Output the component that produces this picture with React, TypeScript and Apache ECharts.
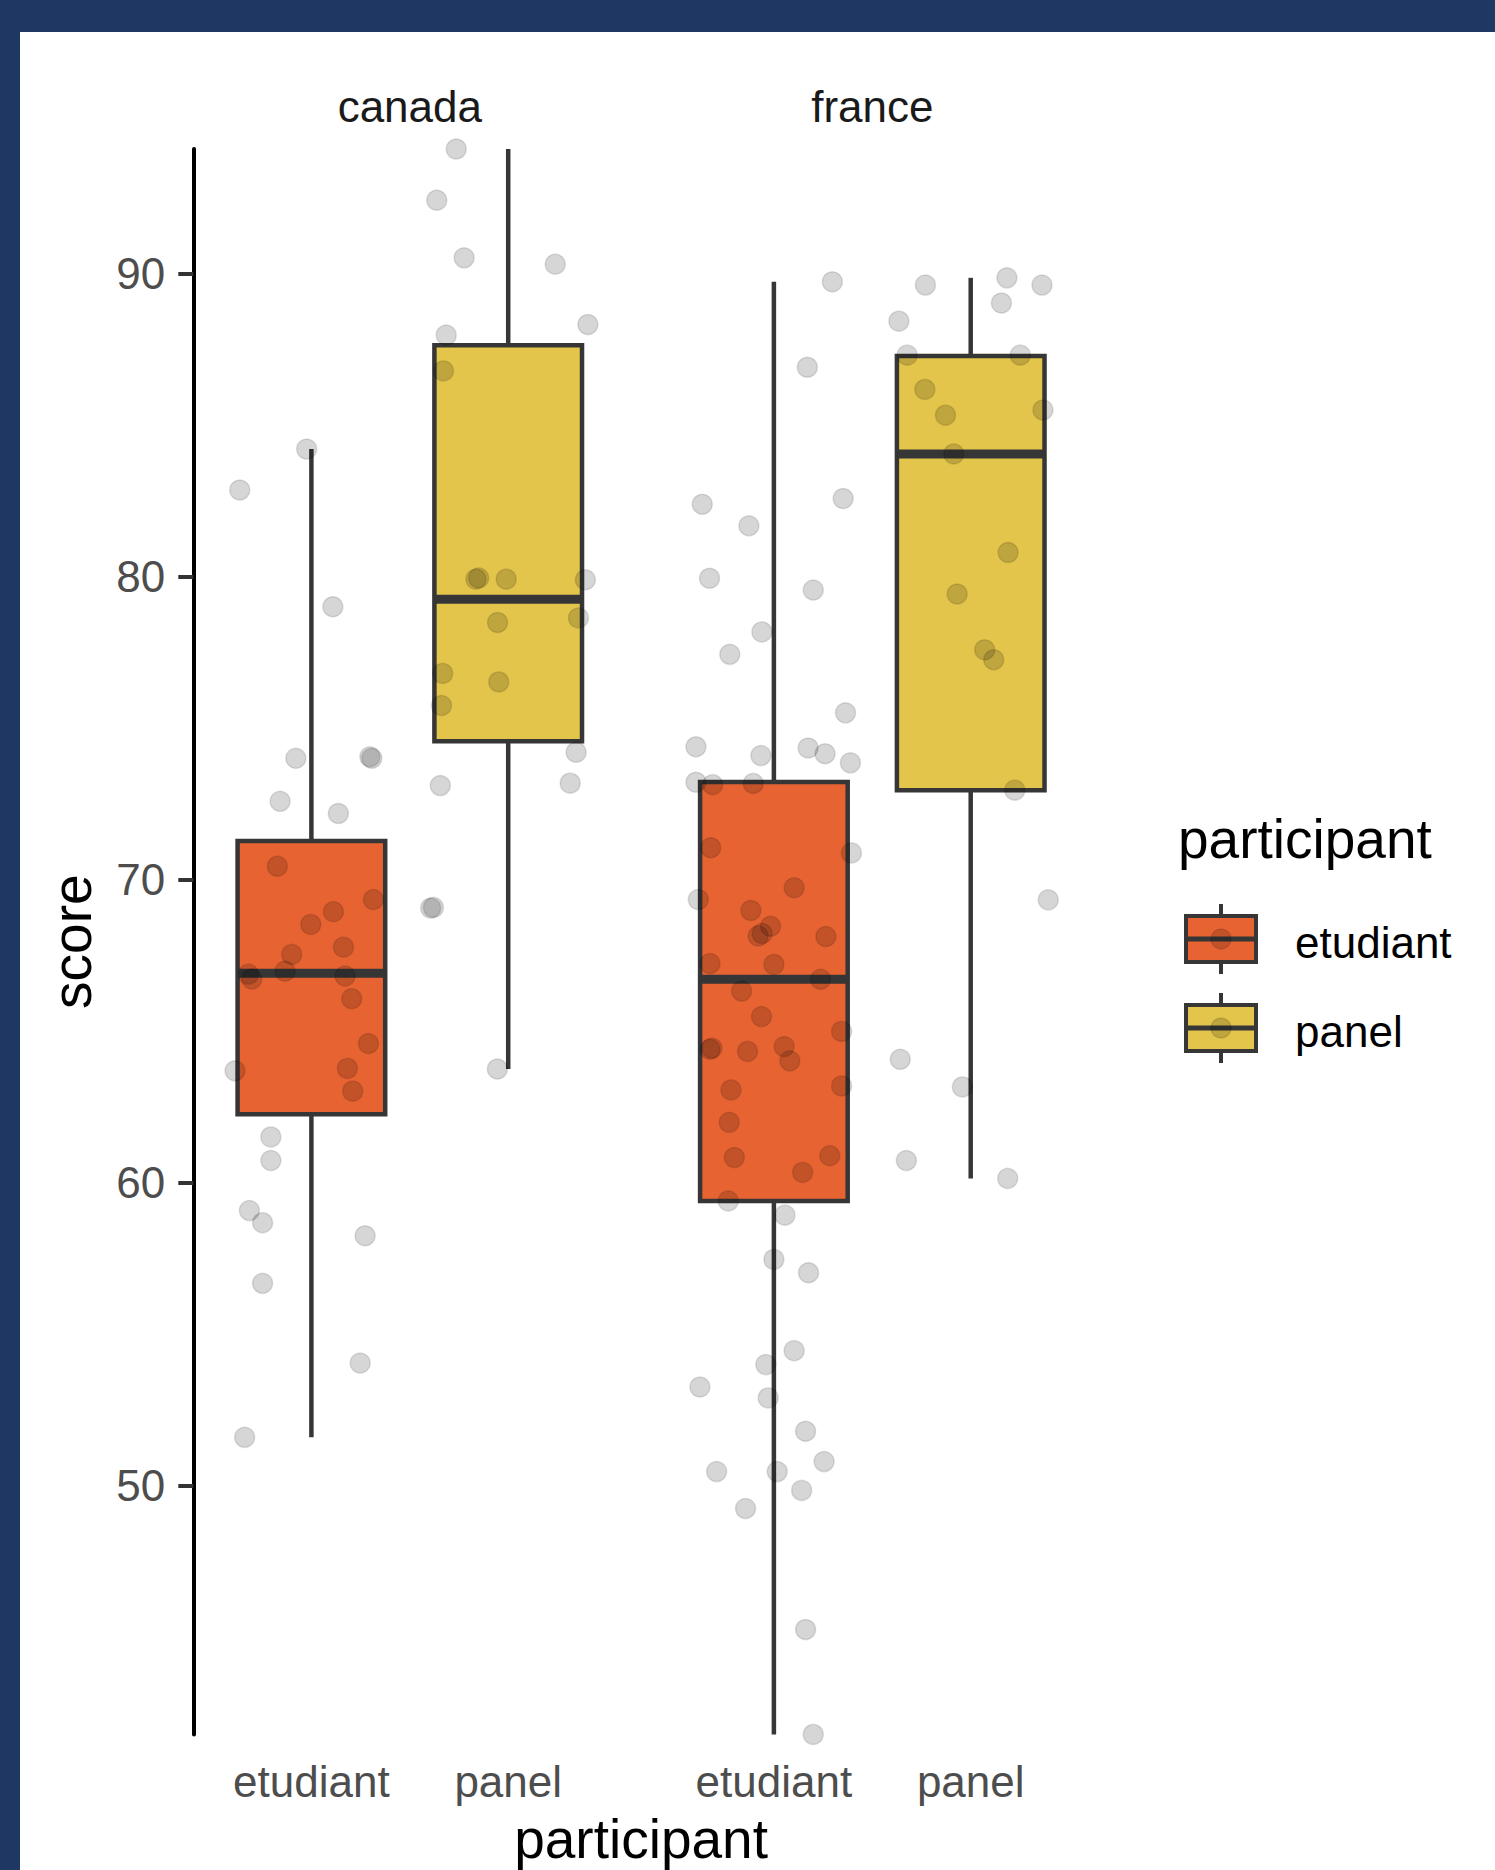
import React, { useEffect, useRef } from "react";
import * as echarts from "echarts";

// ---------- data ----------
const countries = ["canada", "france"];
const participants = ["etudiant", "panel"];
const yTicks = [50, 60, 70, 80, 90];
const Y_MIN = 41.8;
const Y_MAX = 94.1;

// box statistics: [min, Q1, median, Q3, max]
const canadaEtudiantBox = [51.6, 62.26, 66.91, 71.27, 84.2];
const canadaPanelBox = [63.75, 74.56, 79.25, 87.63, 94.1];
const franceEtudiantBox = [41.8, 59.4, 66.71, 73.22, 89.72];
const francePanelBox = [60.14, 72.95, 84.04, 87.27, 89.85];

// jittered points: horizontal jitter (in category units) and score
const canadaEtudiantJitter = [
  -0.364, -0.024, 0.109, -0.079, 0.297, 0.307, -0.159, 0.137, -0.173, 0.315,
  0.112, -0.003, 0.163, -0.1, -0.134, -0.32, -0.303, 0.171, 0.205, 0.29,
  -0.388, 0.183, 0.21, -0.206, -0.206, -0.315, -0.248, 0.273, -0.248, 0.248,
  -0.339,
];
const canadaEtudiantScore = [
  82.85, 84.2, 79.0, 74.0, 74.05, 74.0, 72.58, 72.18, 70.44, 69.34,
  68.94, 68.52, 67.77, 67.53, 66.98, 66.88, 66.72, 66.82, 66.07, 64.59,
  63.69, 63.77, 63.02, 61.51, 60.73, 59.08, 58.68, 58.25, 56.68, 54.05,
  51.6,
];

const canadaPanelJitter = [
  -0.264, -0.363, -0.224, 0.239, 0.405, -0.315, -0.329, -0.164, -0.15, -0.01,
  0.392, -0.054, 0.357, -0.333, -0.048, -0.339, 0.345, 0.315, -0.345, -0.394,
  -0.38, -0.055,
];
const canadaPanelScore = [
  94.1, 92.41, 90.51, 90.3, 88.31, 87.96, 86.78, 79.91, 79.95, 79.91,
  79.89, 78.48, 78.63, 76.8, 76.52, 75.74, 74.2, 73.18, 73.1, 69.06,
  69.08, 63.75,
];

const franceEtudiantJitter = [
  0.297, 0.17, 0.352, -0.364, -0.127, -0.327, 0.2, -0.061, -0.224, 0.364,
  -0.396, -0.066, 0.174, 0.26, 0.389, -0.396, -0.311, -0.105, -0.321, 0.394,
  -0.384, 0.103, -0.117, -0.017, -0.08, -0.06, 0.264, -0.325, 0.0, 0.237,
  -0.164, -0.063, 0.344, -0.325, -0.315, -0.134, 0.052, 0.081, -0.218, 0.344,
  -0.227, -0.201, 0.284, 0.146, -0.232, 0.056, 0.0, 0.176, 0.103, -0.041,
  -0.376, -0.029, 0.161, 0.255, -0.291, 0.017, 0.141, -0.144, 0.161, 0.2,
];
const franceEtudiantScore = [
  89.72, 86.9, 82.57, 82.38, 81.67, 79.94, 79.55, 78.17, 77.43, 75.5,
  74.38, 74.09, 74.34, 74.15, 73.85, 73.21, 73.13, 73.17, 71.05, 70.88,
  69.34, 69.73, 68.98, 68.46, 68.14, 68.22, 68.12, 67.23, 67.2, 66.71,
  66.32, 65.48, 64.99, 64.4, 64.44, 64.33, 64.49, 64.02, 63.06, 63.19,
  61.99, 60.83, 60.89, 60.34, 59.4, 58.93, 57.47, 57.03, 54.46, 54.0,
  53.26, 52.9, 51.8, 50.8, 50.47, 50.47, 49.85, 49.25, 45.26, 41.8,
];

const francePanelJitter = [
  -0.23, 0.184, 0.362, 0.156, -0.365, -0.323, 0.252, -0.233, -0.128, 0.367,
  -0.086, 0.19, -0.069, 0.071, 0.117, 0.224, 0.394, -0.358, -0.042, -0.327,
  0.188,
];
const francePanelScore = [
  89.61, 89.85, 89.61, 89.02, 88.42, 87.3, 87.3, 86.17, 85.32, 85.49,
  84.04, 80.79, 79.42, 77.58, 77.25, 72.95, 69.33, 64.07, 63.16, 60.73,
  60.14,
];

// ---------- styles ----------
const NAVY = "#1F3763";
const FILLS = ["#E86332", "#E4C54B"];
const EDGE = "#363636";
const POINT_FILL = "rgba(0,0,0,0.16)";
const POINT_EDGE = "rgba(0,0,0,0.12)";
const FONT = "'Liberation Sans', Arial, Helvetica, sans-serif";
const BOX_WIDTH = 0.75;

const facetBoxes = [
  [canadaEtudiantBox, canadaPanelBox],
  [franceEtudiantBox, francePanelBox],
];
const facetPoints = [
  [
    [canadaEtudiantJitter, canadaEtudiantScore],
    [canadaPanelJitter, canadaPanelScore],
  ],
  [
    [franceEtudiantJitter, franceEtudiantScore],
    [francePanelJitter, francePanelScore],
  ],
];

const GRID_TOP = 149;
const GRID_HEIGHT = 1585.4;
const GRID_WIDTH = 433;
const GRID_LEFTS = [193.3, 655.8];

function renderBox(params: any, api: any) {
  const x = api.value(0);
  const pMin = api.coord([x, api.value(1)]);
  const pQ1 = api.coord([x, api.value(2)]);
  const pMed = api.coord([x, api.value(3)]);
  const pQ3 = api.coord([x, api.value(4)]);
  const pMax = api.coord([x, api.value(5)]);
  const w = api.size([BOX_WIDTH, 0])[0];
  const fill = FILLS[Math.round(x)];
  return {
    type: "group",
    children: [
      {
        type: "line",
        shape: { x1: pMax[0], y1: pMax[1], x2: pQ3[0], y2: pQ3[1] },
        style: { stroke: EDGE, lineWidth: 4.5 },
      },
      {
        type: "line",
        shape: { x1: pQ1[0], y1: pQ1[1], x2: pMin[0], y2: pMin[1] },
        style: { stroke: EDGE, lineWidth: 4.5 },
      },
      {
        type: "rect",
        shape: { x: pQ3[0] - w / 2, y: pQ3[1], width: w, height: pQ1[1] - pQ3[1] },
        style: { fill, stroke: EDGE, lineWidth: 4.5 },
      },
      {
        type: "line",
        shape: { x1: pMed[0] - w / 2, y1: pMed[1], x2: pMed[0] + w / 2, y2: pMed[1] },
        style: { stroke: EDGE, lineWidth: 9 },
      },
    ],
  };
}

function legendKey(cy: number, fill: string) {
  const cx = 1221;
  return [
    {
      type: "line",
      shape: { x1: cx, y1: cy - 35, x2: cx, y2: cy + 35 },
      style: { stroke: EDGE, lineWidth: 4 },
    },
    {
      type: "rect",
      shape: { x: cx - 35, y: cy - 23, width: 70, height: 46 },
      style: { fill, stroke: EDGE, lineWidth: 4 },
    },
    {
      type: "line",
      shape: { x1: cx - 35, y1: cy, x2: cx + 35, y2: cy },
      style: { stroke: EDGE, lineWidth: 5 },
    },
    {
      type: "circle",
      shape: { cx, cy, r: 10 },
      style: { fill: POINT_FILL, stroke: POINT_EDGE, lineWidth: 1.5 },
    },
  ];
}

export default function App() {
  const ref = useRef<HTMLDivElement>(null);

  useEffect(() => {
    document.body.style.margin = "0";
    const chart = echarts.init(ref.current!, null, { renderer: "svg" });

    const grids = GRID_LEFTS.map((left) => ({
      left,
      top: GRID_TOP,
      width: GRID_WIDTH,
      height: GRID_HEIGHT,
      containLabel: false,
      outerBoundsMode: "none",
    }));

    const xAxes = countries.map((_, i) => ({
      type: "value",
      gridIndex: i,
      min: -0.6,
      max: 1.6,
      axisLine: { show: false, onZero: false },
      axisTick: { show: false },
      splitLine: { show: false },
      axisLabel: {
        customValues: [0, 1],
        formatter: (v: number) => participants[Math.round(v)] ?? "",
        fontSize: 44,
        fontFamily: FONT,
        color: "#4D4D4D",
        margin: 25,
      },
    }));

    const yAxes = countries.map((_, i) => ({
      type: "value",
      gridIndex: i,
      position: "left",
      min: Y_MIN,
      max: Y_MAX,
      show: i === 0,
      splitLine: { show: false },
      axisLine: { show: true, onZero: false, lineStyle: { color: "#000", width: 4 } },
      axisTick: {
        show: true,
        customValues: yTicks,
        length: 15,
        lineStyle: { color: "#333", width: 4 },
      },
      axisLabel: {
        customValues: yTicks,
        fontSize: 44,
        fontFamily: FONT,
        color: "#4D4D4D",
        margin: 28,
      },
    }));

    const series: any[] = [];
    countries.forEach((_, i) => {
      series.push({
        type: "custom",
        xAxisIndex: i,
        yAxisIndex: i,
        renderItem: renderBox,
        encode: { x: 0, y: [1, 2, 3, 4, 5] },
        data: facetBoxes[i].map((b, k) => [k, ...b]),
        silent: true,
        z: 2,
      });
    });
    countries.forEach((_, i) => {
      const data: number[][] = [];
      facetPoints[i].forEach(([jit, score], k) => {
        score.forEach((s, j) => data.push([k + jit[j], s]));
      });
      series.push({
        type: "scatter",
        xAxisIndex: i,
        yAxisIndex: i,
        symbol: "circle",
        symbolSize: 20,
        data,
        silent: true,
        itemStyle: { color: POINT_FILL, borderColor: POINT_EDGE, borderWidth: 1.5, opacity: 1 },
        z: 3,
      });
    });

    const stripY = 106.5;
    const graphic: any[] = [
      ...countries.map((c, i) => ({
        type: "text",
        x: GRID_LEFTS[i] + GRID_WIDTH / 2,
        y: stripY,
        style: {
          text: c,
          fontSize: 44,
          fontFamily: FONT,
          fill: "#1A1A1A",
          align: "center",
          verticalAlign: "middle",
        },
      })),
      {
        type: "text",
        x: 71.6,
        y: GRID_TOP + GRID_HEIGHT / 2,
        rotation: Math.PI / 2,
        style: {
          text: "score",
          fontSize: 55,
          fontFamily: FONT,
          fill: "#000",
          align: "center",
          verticalAlign: "middle",
        },
      },
      {
        type: "text",
        x: (GRID_LEFTS[0] + GRID_LEFTS[1] + GRID_WIDTH) / 2,
        y: 1839,
        style: {
          text: "participant",
          fontSize: 55,
          fontFamily: FONT,
          fill: "#000",
          align: "center",
          verticalAlign: "middle",
        },
      },
      {
        type: "text",
        x: 1178,
        y: 839,
        style: {
          text: "participant",
          fontSize: 55,
          fontFamily: FONT,
          fill: "#000",
          align: "left",
          verticalAlign: "middle",
        },
      },
      ...legendKey(939, FILLS[0]),
      ...legendKey(1028, FILLS[1]),
      ...participants.map((p, k) => ({
        type: "text",
        x: 1295,
        y: k === 0 ? 942 : 1031,
        style: {
          text: p,
          fontSize: 44,
          fontFamily: FONT,
          fill: "#000",
          align: "left",
          verticalAlign: "middle",
        },
      })),
    ];

    chart.setOption({
      animation: false,
      backgroundColor: "transparent",
      grid: grids,
      xAxis: xAxes,
      yAxis: yAxes,
      series,
      graphic,
    });

    return () => chart.dispose();
  }, []);

  return (
    <div
      style={{
        position: "absolute",
        left: 0,
        top: 0,
        width: 1495,
        height: 1870,
        background: NAVY,
        overflow: "hidden",
      }}
    >
      <div
        style={{
          position: "absolute",
          left: 20,
          top: 32,
          right: 0,
          bottom: 0,
          background: "#fff",
        }}
      />
      <div
        ref={ref}
        style={{ position: "absolute", left: 0, top: 0, width: 1495, height: 1870 }}
      />
    </div>
  );
}
